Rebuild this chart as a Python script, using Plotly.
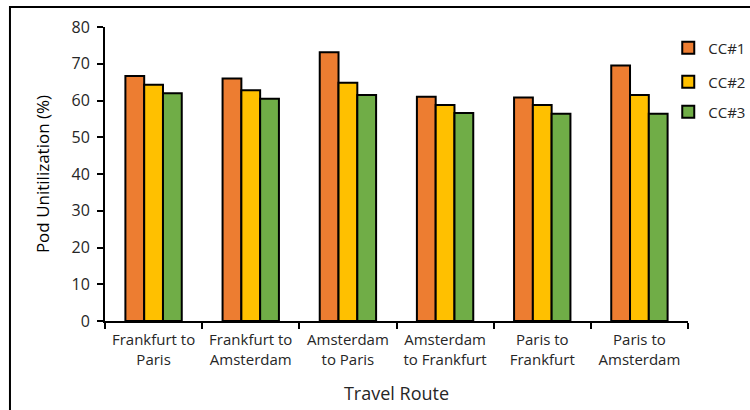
import plotly.graph_objects as go

routes = ["Frankfurt to<br>Paris", "Frankfurt to<br>Amsterdam", "Amsterdam<br>to Paris",
          "Amsterdam<br>to Frankfurt", "Paris to<br>Frankfurt", "Paris to<br>Amsterdam"]
cc1 = [66.7, 66.0, 73.1, 61.0, 60.8, 69.5]
cc2 = [64.3, 62.8, 64.8, 58.8, 58.8, 61.5]
cc3 = [62.0, 60.5, 61.5, 56.6, 56.4, 56.4]
series_names = ["CC#1", "CC#2", "CC#3"]
colors = ["#ED7D31", "#FFC000", "#70AD47"]
y_ticks = [0, 10, 20, 30, 40, 50, 60, 70, 80]

fig = go.Figure()
legend_ids = ["legend", "legend2", "legend3"]
legend_y = [0.883, 0.80, 0.727]
for name, vals, col, lid in zip(series_names, [cc1, cc2, cc3], colors, legend_ids):
    fig.add_trace(go.Bar(
        x=routes, y=vals, name=name, legend=lid,
        marker=dict(color=col, line=dict(color="black", width=2)),
    ))

font_main = "Open Sans, Lato, sans-serif"
text_col = "#262626"
legend_common = dict(
    xref="container", yref="container",
    x=0.891, xanchor="left", yanchor="middle",
    font=dict(family=font_main, size=15, color=text_col),
    bgcolor="rgba(0,0,0,0)", itemwidth=30,
)
layout_legends = {}
for lid, ly in zip(legend_ids, legend_y):
    layout_legends[lid] = dict(legend_common, y=ly)

fig.update_layout(
    width=750, height=410,
    margin=dict(l=105, r=62, t=27, b=89, autoexpand=False),
    paper_bgcolor="white", plot_bgcolor="white",
    barmode="group", bargap=0.42, bargroupgap=0,
    showlegend=True,
    **layout_legends,
    xaxis=dict(
        showline=True, linecolor="black", linewidth=2,
        ticks="outside", tickson="boundaries", ticklen=6, tickwidth=2, tickcolor="black",
        tickangle=0, ticklabelstandoff=4,
        tickfont=dict(family=font_main, size=15, color=text_col),
        title=dict(text="Travel Route", font=dict(family=font_main, size=18, color=text_col), standoff=20),
        showgrid=False,
    ),
    yaxis=dict(
        range=[0, 80], tickvals=y_ticks,
        showline=True, linecolor="black", linewidth=2,
        ticks="outside", ticklen=6, tickwidth=2, tickcolor="black",
        ticklabelstandoff=4,
        tickfont=dict(family=font_main, size=16, color=text_col),
        title=dict(text="Pod Unitilization (%)", font=dict(family=font_main, size=17, color="black"), standoff=18),
        showgrid=False, zeroline=False,
    ),
    shapes=[dict(type="rect", xref="paper", yref="paper",
                 x0=-0.163, x1=1.2, y0=-0.5, y1=1.068,
                 line=dict(color="black", width=2), fillcolor="rgba(0,0,0,0)", layer="below")],
)

fig.write_html("out.html")
